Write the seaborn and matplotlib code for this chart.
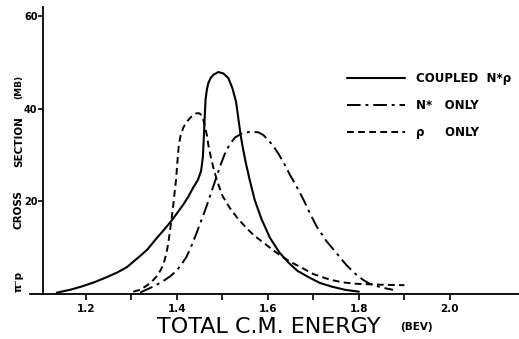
"""
pi- p cross section vs total c.m. energy (coupled N*rho, N* only, rho only)
"""
import matplotlib
matplotlib.use('Agg')
import matplotlib.pyplot as plt
import seaborn as sns

# values (energy in BeV, cross section in mb)
coupled_x = [1.136, 1.165, 1.19, 1.22, 1.245, 1.27, 1.29, 1.319, 1.335, 1.355, 1.372,
             1.388, 1.40, 1.414, 1.425, 1.436, 1.446, 1.453, 1.457, 1.459, 1.461,
             1.463, 1.466, 1.469, 1.474, 1.480, 1.491, 1.502, 1.513, 1.522, 1.530,
             1.535, 1.540, 1.545, 1.551, 1.56, 1.571, 1.585, 1.604, 1.625, 1.645,
             1.665, 1.69, 1.714, 1.74, 1.77, 1.80]
coupled_y = [0.3, 0.9, 1.6, 2.6, 3.6, 4.7, 5.8, 8.2, 9.6, 12.0, 13.9,
             15.8, 17.4, 19.3, 21.0, 23.0, 24.6, 26.5, 29.5, 33.5, 38.0,
             42.0, 44.2, 45.5, 46.6, 47.3, 47.9, 47.6, 46.6, 44.4, 41.5,
             37.9, 34.3, 31.5, 28.5, 24.6, 20.3, 16.4, 12.2, 9.0, 6.8,
             5.0, 3.6, 2.4, 1.6, 0.9, 0.5]

nstar_x = [1.319, 1.33, 1.35, 1.37, 1.385, 1.399, 1.41, 1.421, 1.432, 1.443, 1.454,
           1.465, 1.475, 1.484, 1.495, 1.505, 1.516, 1.528, 1.542, 1.56, 1.579,
           1.59, 1.601, 1.612, 1.623, 1.635, 1.648, 1.663, 1.678, 1.692, 1.707,
           1.728, 1.751, 1.772, 1.795, 1.81, 1.824, 1.85, 1.875]
nstar_y = [0.3, 0.8, 1.7, 2.8, 3.8, 5.0, 6.4, 8.0, 10.4, 13.1, 16.0,
           18.9, 21.8, 24.4, 27.6, 30.2, 32.3, 33.8, 34.6, 35.0, 34.9,
           34.3, 33.2, 31.9, 30.3, 28.3, 25.8, 23.2, 20.4, 17.5, 14.6,
           11.5, 8.8, 6.3, 4.1, 3.0, 2.2, 1.4, 0.9]

rho_x = [1.304, 1.319, 1.335, 1.348, 1.358, 1.366, 1.372, 1.377, 1.381, 1.385, 1.389,
         1.392, 1.395, 1.398, 1.401, 1.404, 1.408, 1.414, 1.421, 1.429, 1.436,
         1.443, 1.449, 1.454, 1.458, 1.462, 1.466, 1.469, 1.474, 1.48, 1.488,
         1.50, 1.516, 1.533, 1.553, 1.57, 1.59, 1.607, 1.626, 1.648, 1.67,
         1.70, 1.736, 1.765, 1.795, 1.85, 1.90]
rho_y = [0.5, 0.9, 1.9, 3.0, 4.1, 5.5, 7.0, 8.8, 11.0, 13.8, 16.8,
         19.2, 22.0, 24.6, 28.5, 32.0, 34.2, 35.9, 37.1, 38.0, 38.6,
         39.0, 39.0, 38.6, 37.6, 36.0, 34.2, 32.2, 29.8, 27.3, 24.5,
         21.2, 18.6, 16.4, 14.2, 12.6, 11.1, 9.8, 8.4, 7.0, 5.9,
         4.3, 3.1, 2.5, 2.2, 2.0, 1.9]

labels = ['COUPLED  N*ρ', 'N*   ONLY', 'ρ     ONLY']
x_ticks = [1.2, 1.4, 1.6, 1.8, 2.0]
x_minor = [1.3, 1.5, 1.7, 1.9]
y_ticks = [20, 40, 60]

sns.set_style('white')
plt.rcParams['font.family'] = ['DejaVu Sans']
plt.rcParams['text.color'] = 'black'
plt.rcParams['xtick.color'] = 'black'
plt.rcParams['ytick.color'] = 'black'
plt.rcParams['axes.labelcolor'] = 'black'

fig = plt.figure(figsize=(5.19, 3.39), dpi=100)
ax = fig.add_axes([30 / 519, 45 / 339, 489 / 519, 287.3 / 339])

sns.lineplot(x=coupled_x, y=coupled_y, ax=ax, sort=False, color='black', lw=1.5,
             label=labels[0], clip_on=False)
sns.lineplot(x=nstar_x, y=nstar_y, ax=ax, sort=False, color='black', lw=1.4,
             label=labels[1], clip_on=False)
sns.lineplot(x=rho_x, y=rho_y, ax=ax, sort=False, color='black', lw=1.4,
             label=labels[2], clip_on=False)
ax.lines[1].set_dashes((7, 2.5, 1.5, 2.5))
ax.lines[2].set_dashes((3.5, 2.2))

ax.set_xlim(1.077, 2.152)
ax.set_ylim(0, 62)

for s in ['top', 'right']:
    ax.spines[s].set_visible(False)
ax.spines['left'].set_position(('data', 1.1055))
ax.spines['left'].set_bounds(0, 62)
for s in ['left', 'bottom']:
    ax.spines[s].set_color('black')
    ax.spines[s].set_linewidth(1.3)

ax.set_xticks(x_ticks)
ax.set_xticks(x_minor, minor=True)
ax.set_xticklabels([f'{v:.1f}' for v in x_ticks], fontsize=7.5, fontweight='bold')
ax.set_yticks(y_ticks)
ax.set_yticklabels([str(v) for v in y_ticks], fontsize=7, fontweight='bold')
ax.tick_params(axis='x', which='both', direction='out', length=4.5, width=1.2,
               pad=3, color='black', labelcolor='black', bottom=True)
ax.tick_params(axis='y', direction='out', length=3.5, width=1.2, pad=0.5,
               color='black', labelcolor='black', left=True)
ax.set_xlabel('')
ax.set_ylabel('')

# axis titles
fig.text(269 / 519, 1 - 327 / 339, 'TOTAL C.M. ENERGY', fontsize=16,
         ha='center', va='center', color='black')
fig.text(416 / 519, 1 - 327 / 339, '(BEV)', fontsize=7.5, fontweight='bold',
         ha='center', va='center', color='black')
for txt, yc, fs in [('π⁻p', 281, 7.5), ('CROSS', 210, 7.5), ('SECTION', 142, 7.5), ('(MB)', 87, 6.5)]:
    fig.text(19 / 519, 1 - yc / 339, txt, fontsize=fs, fontweight='bold',
             rotation=90, ha='center', va='center', color='black')

leg = ax.legend(loc='upper left', bbox_to_anchor=(347 / 519, 1 - 72 / 339),
                bbox_transform=fig.transFigure, frameon=False, borderpad=0,
                borderaxespad=0, handlelength=4.9, handletextpad=0.93,
                labelspacing=1.2, prop={'size': 8.5, 'weight': 'bold'})
for t in leg.get_texts():
    t.set_color('black')

plt.savefig('out.png', dpi=100)
plt.close()
